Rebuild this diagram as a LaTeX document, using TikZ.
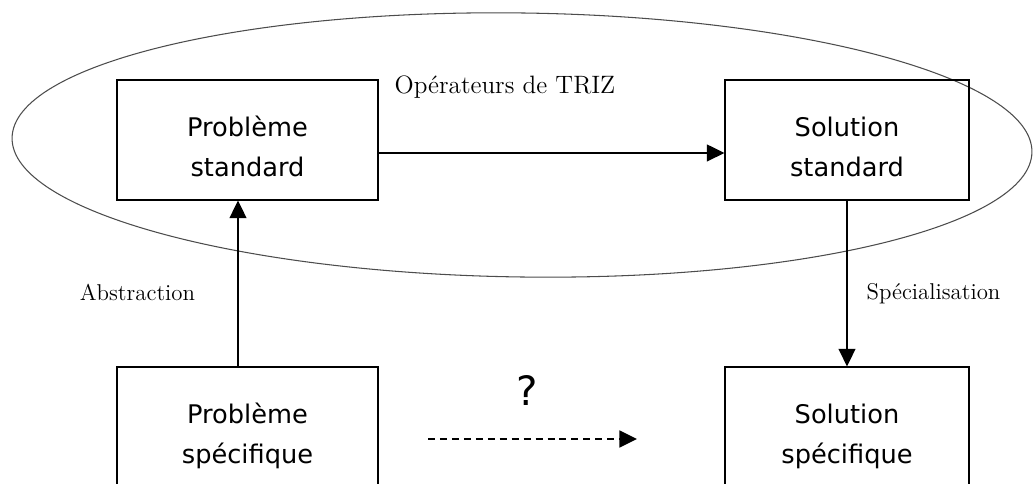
\documentclass[tikz,border=0pt]{standalone}
\usepackage{fontspec}
\newfontfamily\boxfont{DejaVu Sans}
\usetikzlibrary{arrows.meta,shapes.geometric}

\begin{document}
\begin{tikzpicture}[every node/.style={font=\fontsize{13}{15}\selectfont}, box/.style={draw, line width=0.7pt, inner sep=0pt, align=center, text height=1.14cm, text depth=1.26cm, font=\boxfont\fontsize{14.6}{22.7}\selectfont}, arr/.style={-{Triangle[length=10pt,width=9.6pt]}, line width=1.1pt}]
\clip (0,0) rectangle (20.66,9.68);
\node[draw=black!70, line width=0.6pt, ellipse, minimum width=20.4cm, minimum height=5.28cm, rotate=-0.8] (triz) at (10.44,6.78) {};
\node[anchor=base, font=\fontsize{14.3}{17}\selectfont] (ops) at (10.1,7.8) {Opérateurs de TRIZ};
\node[box, text width=5.22cm] (pbstd) at (4.95,6.88) {Problème\\standard};
\node[box, text width=4.88cm] (solstd) at (16.94,6.88) {Solution\\standard};
\node[box, text width=5.22cm] (pbspec) at (4.95,1.14) {Problème\\spécifique};
\node[box, text width=4.88cm] (solspec) at (16.94,1.14) {Solution\\spécifique};
\node[anchor=base] (abstr) at (2.75,3.67) {Abstraction};
\node[anchor=base] (special) at (18.67,3.68) {Spécialisation};
\node[font=\boxfont\fontsize{23}{26}\selectfont] (qmark) at (10.54,1.86) {?};
\coordinate (qa) at (8.56,0.9);
\coordinate (qb) at (12.74,0.9);
\draw[arr] ([yshift=-2.6mm]pbstd.east) -- ([yshift=-2.6mm]solstd.west);
\draw[arr] ([xshift=-1.9mm]pbspec.north) -- ([xshift=-1.9mm]pbstd.south);
\draw[arr] (solstd.south) -- (solspec.north);
\draw[arr, dash pattern=on 4pt off 2.8pt] (qa) -- (qb);
\end{tikzpicture}
\end{document}
